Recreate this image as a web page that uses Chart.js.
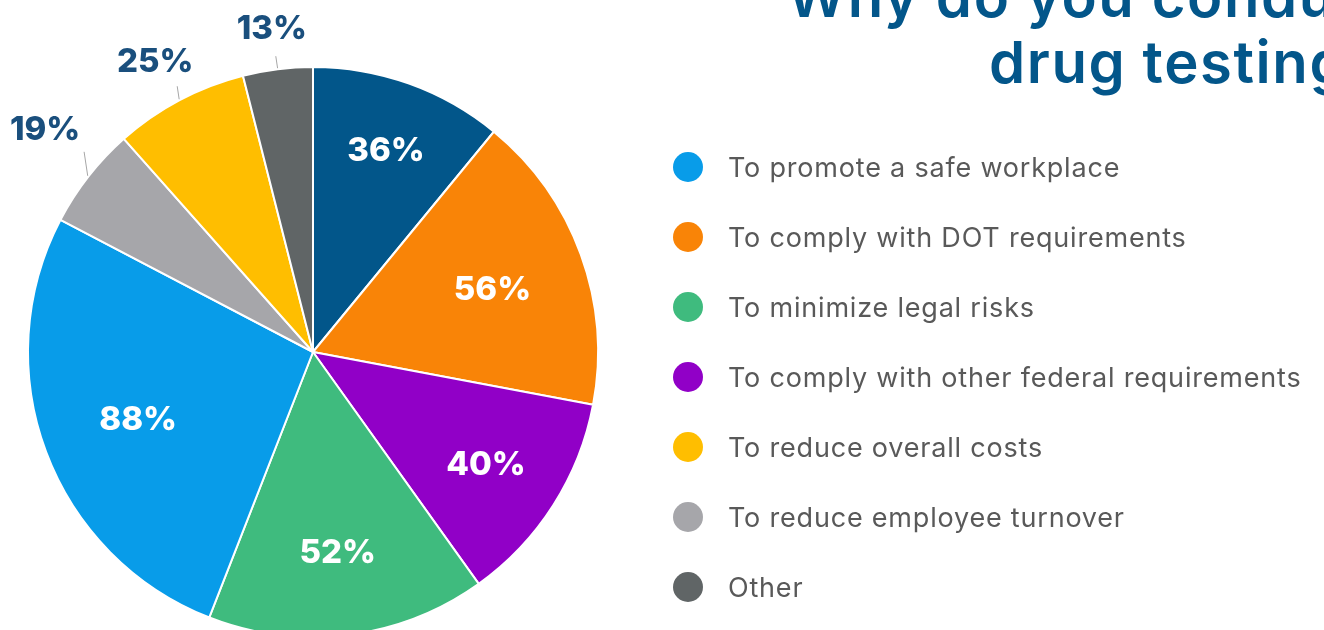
<!DOCTYPE html>
<html>
<head>
<meta charset="utf-8">
<script src="https://cdn.jsdelivr.net/npm/chart.js@4.4.1/dist/chart.umd.min.js"></script>
<style>
  html, body { margin: 0; padding: 0; background: #fff; }
  #slide { position: relative; width: 1324px; height: 630px; overflow: hidden; font-family: Inter, 'Open Sans', sans-serif; }
  #chartBox { position: absolute; left: 0; top: 0; width: 1324px; height: 630px; }
  .title { position: absolute; white-space: nowrap; color: #03568A; font-weight: 600; font-size: 58px; letter-spacing: 1.6px; line-height: 1; }
  #legend { position: absolute; left: 673px; top: 0; margin: 0; padding: 0; list-style: none; }
  #legend li { position: absolute; left: 0; display: flex; align-items: center; white-space: nowrap; height: 40px; }
  #legend .dot { width: 30px; height: 30px; border-radius: 50%; margin-right: 25px; }
  #legend .txt { color: #595959; font-size: 27px; letter-spacing: 0.8px; }
</style>
</head>
<body>
<div id="slide">
  <div id="chartBox"><canvas id="pieChart"></canvas></div>
  <div class="title" style="left:787px; top:-33px;">Why do you conduct</div>
  <div class="title" style="left:989px; top:33px;">drug testing?</div>
  <ul id="legend"></ul>
</div>
<script>
// drug testing reasons - pie chart

const categories = [
  'Other requirements',
  'To comply with DOT requirements',
  'To comply with other federal requirements',
  'To minimize legal risks',
  'To promote a safe workplace',
  'To reduce employee turnover',
  'To reduce overall costs',
  'Other'
];
const percentValues = [36, 56, 40, 52, 88, 19, 25, 13];
const sliceColors = ['#02568A', '#F98407', '#9100C7', '#3FBB7E', '#089CE9', '#A6A6AA', '#FFBE00', '#606566'];
// legend only lists these slices, in this order
const legendOrder = [4, 1, 3, 2, 6, 5, 7];

// label placement: inside labels by fraction of radius, outside ones (null) sit above a leader line
const labelRadius = [0.76, 0.67, 0.72, 0.70, 0.655, null, null, null];
const leaderLength = [0, 0, 0, 0, 0, 24, 13, 12];
const outsideShift = [null, null, null, null, null, [-39, -25], [-22, -27], [-4, -30]];

const legendEl = document.getElementById('legend');
legendOrder.forEach((idx, i) => {
  const li = document.createElement('li');
  li.style.top = (147 + i * 70) + 'px';
  li.innerHTML = '<span class="dot" style="background:' + sliceColors[idx] + '"></span><span class="txt">' + categories[idx] + '</span>';
  legendEl.appendChild(li);
});

const sliceLabels = {
  id: 'sliceLabels',
  afterDatasetsDraw(chart) {
    const ctx = chart.ctx;
    const meta = chart.getDatasetMeta(0);
    meta.data.forEach((arc, i) => {
      const p = arc.getProps(['x', 'y', 'startAngle', 'endAngle', 'outerRadius'], true);
      const mid = (p.startAngle + p.endAngle) / 2;
      let tx, ty;
      ctx.save();
      if (labelRadius[i] === null) {
        const ex = p.x + Math.cos(mid) * (p.outerRadius + 1);
        const ey = p.y + Math.sin(mid) * (p.outerRadius + 1);
        const lx = ex - leaderLength[i] * 0.15;
        const ly = ey - leaderLength[i];
        ctx.strokeStyle = '#A6A6A6';
        ctx.lineWidth = 1;
        ctx.beginPath();
        ctx.moveTo(ex, ey);
        ctx.lineTo(lx, ly);
        ctx.stroke();
        tx = lx + outsideShift[i][0];
        ty = ly + outsideShift[i][1];
        ctx.fillStyle = '#1A4F7D';
      } else {
        const r = p.outerRadius * labelRadius[i];
        tx = p.x + Math.cos(mid) * r;
        ty = p.y + Math.sin(mid) * r;
        ctx.fillStyle = '#ffffff';
      }
      ctx.font = '800 33px Inter, sans-serif';
      ctx.textAlign = 'center';
      ctx.textBaseline = 'middle';
      ctx.fillText(percentValues[i] + '%', tx, ty + 3);
      ctx.restore();
    });
  }
};

new Chart(document.getElementById('pieChart'), {
  type: 'pie',
  data: {
    labels: categories,
    datasets: [{
      data: percentValues,
      backgroundColor: sliceColors,
      borderColor: '#ffffff',
      borderWidth: 2,
      clip: false
    }]
  },
  options: {
    responsive: true,
    maintainAspectRatio: false,
    animation: false,
    radius: 285,
    layout: { padding: { left: 0, right: 698, top: 74, bottom: 0 } },
    plugins: {
      legend: { display: false },
      tooltip: { enabled: false }
    }
  },
  plugins: [sliceLabels]
});
</script>
</body>
</html>
